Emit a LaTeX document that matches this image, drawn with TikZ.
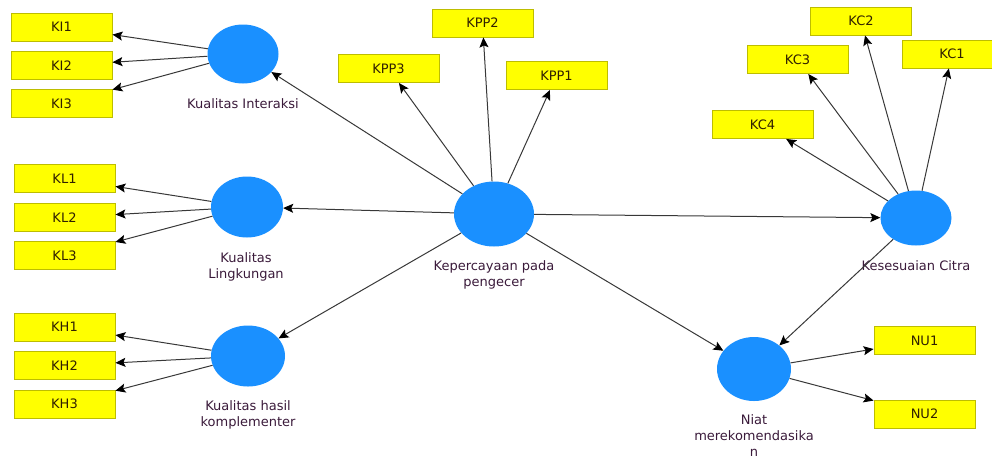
\documentclass[tikz,border=0pt]{standalone}
\usepackage{fontspec}
\setmainfont{DejaVu Sans}
\usetikzlibrary{shapes.geometric,arrows.meta}
\definecolor{lvblue}{HTML}{1A90FF}
\definecolor{boxyel}{HTML}{FFFF00}
\definecolor{boxedge}{HTML}{BDBD00}
\definecolor{boxtxt}{HTML}{302000}
\definecolor{lbltxt}{HTML}{3A1A3A}
\definecolor{linecol}{HTML}{383838}
\tikzset{
  ind/.style={draw=boxedge,fill=boxyel,line width=0.9pt,minimum width=101pt,minimum height=28pt,inner sep=0pt,text=boxtxt,font=\fontsize{13}{16}\selectfont},
  lv/.style={ellipse,fill=lvblue,draw=none,inner sep=0pt},
  lbl/.style={align=center,text=lbltxt,font=\fontsize{13}{16}\selectfont,inner sep=0pt},
  arr/.style={draw=linecol,line width=1pt,-{Stealth[length=10pt,width=9pt,inset=2pt,color=black]}}
}
\begin{document}
\begin{tikzpicture}[x=1pt,y=-1pt]
\useasboundingbox (0,0) rectangle (992,459);
\clip (0,0) rectangle (992,459);
% latent variables
\node[lv,minimum width=71pt,minimum height=59pt] (KI) at (243,54) {};
\node[lv,minimum width=72pt,minimum height=61pt] (KL) at (247,207) {};
\node[lv,minimum width=74pt,minimum height=61pt] (KH) at (248,356) {};
\node[lv,minimum width=80pt,minimum height=65pt] (KPP) at (494,214) {};
\node[lv,minimum width=71pt,minimum height=55pt] (KC) at (916,218) {};
\node[lv,minimum width=74pt,minimum height=64pt] (NU) at (754,369) {};
% labels
\node[lbl] (lKI) at (243,104) {Kualitas Interaksi};
\node[lbl] (lKL) at (246,266.5) {Kualitas\\Lingkungan};
\node[lbl] (lKH) at (248,415) {Kualitas hasil\\komplementer};
\node[lbl] (lKPP) at (494,275) {Kepercayaan pada\\pengecer};
\node[lbl] (lKC) at (916,266) {Kesesuaian Citra};
\node[lbl] (lNU) at (754,436) {Niat\\merekomendasika\\n};
% indicators
\node[ind] (KI1) at (61.5,27) {KI1};
\node[ind] (KI2) at (61.5,65.5) {KI2};
\node[ind] (KI3) at (61.5,103.5) {KI3};
\node[ind] (KL1) at (64.5,178.5) {KL1};
\node[ind] (KL2) at (64.5,217.5) {KL2};
\node[ind] (KL3) at (64.5,255.5) {KL3};
\node[ind] (KH1) at (64.5,327) {KH1};
\node[ind] (KH2) at (64.5,365.5) {KH2};
\node[ind] (KH3) at (64.5,404) {KH3};
\node[ind] (KPP2) at (482.5,23) {KPP2};
\node[ind] (KPP3) at (388.5,68.5) {KPP3};
\node[ind] (KPP1) at (556.5,75.5) {KPP1};
\node[ind] (KC2) at (861,21) {KC2};
\node[ind] (KC3) at (797.5,59.5) {KC3};
\node[ind,minimum width=100pt] (KC1) at (952,54) {KC1};
\node[ind] (KC4) at (762.5,124.5) {KC4};
\node[ind] (NU1) at (924.5,340.5) {NU1};
\node[ind] (NU2) at (924.5,414) {NU2};
% measurement arrows
\foreach \a/\b in {KI/KI1,KI/KI2,KI/KI3,KL/KL1,KL/KL2,KL/KL3,KH/KH1,KH/KH2,KH/KH3,KPP/KPP1,KPP/KPP2,KPP/KPP3,KC/KC1,KC/KC2,KC/KC3,KC/KC4,NU/NU1,NU/NU2}
  \draw[arr] (\a) -- (\b);
% structural arrows
\draw[arr] (KPP) -- (KI);
\draw[arr] (KPP) -- (KL);
\draw[arr] (KPP) -- (KH);
\draw[arr] (KPP) -- (KC);
\draw[arr] (KPP) -- (NU);
\draw[arr] (KC) -- (NU);
\end{tikzpicture}
\end{document}
